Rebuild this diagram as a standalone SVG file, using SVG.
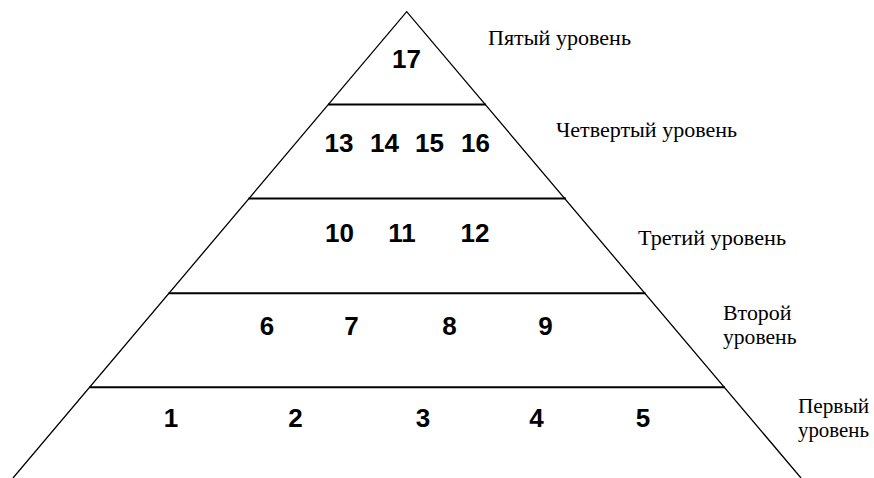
<svg xmlns="http://www.w3.org/2000/svg" width="874" height="478" viewBox="0 0 874 478">
<style>
.side{stroke:#000;stroke-width:1.3;fill:none}
.lvl{stroke:#000;stroke-width:2;fill:none}
.num{font-family:"Liberation Sans",Arial,sans-serif;font-size:26px;font-weight:bold;text-anchor:middle;fill:#000}
.lab{font-family:"Liberation Serif","Times New Roman",serif;font-size:20px;fill:#000}
</style>
<rect width="874" height="478" fill="#fff"/>
<g id="connectors">
<path class="side" d="M13,478 L406.7,11.7 L801,478"/>
<line class="lvl" x1="328" y1="104.5" x2="486" y2="104.5"/>
<line class="lvl" x1="248.5" y1="198.5" x2="566" y2="198.5"/>
<line class="lvl" x1="168.5" y1="293.3" x2="645.5" y2="293.3"/>
<line class="lvl" x1="89.3" y1="387.3" x2="725" y2="387.3"/>
</g>
<g id="level5">
<text class="num" x="406.5" y="68">17</text>
<text class="lab" x="488" y="45" textLength="143" lengthAdjust="spacingAndGlyphs">Пятый уровень</text>
</g>
<g id="level4">
<text class="num" x="339" y="152">13</text>
<text class="num" x="384.5" y="152">14</text>
<text class="num" x="429.5" y="152">15</text>
<text class="num" x="475.5" y="152">16</text>
<text class="lab" x="556" y="137" textLength="181" lengthAdjust="spacingAndGlyphs">Четвертый уровень</text>
</g>
<g id="level3">
<text class="num" x="339.5" y="242">10</text>
<text class="num" x="402" y="242">11</text>
<text class="num" x="475" y="242">12</text>
<text class="lab" x="638" y="245" textLength="148" lengthAdjust="spacingAndGlyphs">Третий уровень</text>
</g>
<g id="level2">
<text class="num" x="267" y="335">6</text>
<text class="num" x="351.5" y="335">7</text>
<text class="num" x="449.5" y="335">8</text>
<text class="num" x="545.5" y="335">9</text>
<text class="lab" x="723" y="320" textLength="68.5" lengthAdjust="spacingAndGlyphs">Второй</text>
<text class="lab" x="723" y="344" textLength="73.5" lengthAdjust="spacingAndGlyphs">уровень</text>
</g>
<g id="level1">
<text class="num" x="171" y="427">1</text>
<text class="num" x="295.5" y="427">2</text>
<text class="num" x="423" y="427">3</text>
<text class="num" x="536.5" y="427">4</text>
<text class="num" x="643" y="427">5</text>
<text class="lab" x="798" y="413" textLength="71" lengthAdjust="spacingAndGlyphs">Первый</text>
<text class="lab" x="798" y="437" textLength="71" lengthAdjust="spacingAndGlyphs">уровень</text>
</g>
</svg>
